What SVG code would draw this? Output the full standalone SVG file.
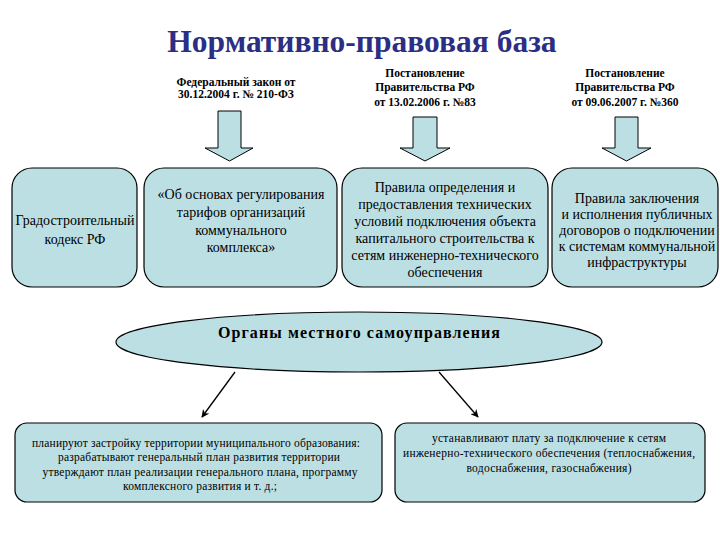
<svg xmlns="http://www.w3.org/2000/svg" width="720" height="540" viewBox="0 0 720 540">
<defs>
<style>
.box{fill:#BCDFE3;stroke:#000;stroke-width:1.2}
.t{font-family:'Liberation Serif','Times New Roman',serif;font-size:14px;fill:#000;text-anchor:middle}
.h{font-family:'Liberation Serif','Times New Roman',serif;font-size:11.5px;font-weight:bold;fill:#000;text-anchor:middle}
.s{font-family:'Liberation Serif','Times New Roman',serif;font-size:11.5px;fill:#000;text-anchor:middle}
.bar{fill:#BCDFE3;stroke:#000;stroke-width:1}
.con{stroke:#000;stroke-width:1.3;fill:none}
</style>
<marker id="ah" viewBox="0 0 10 10" refX="9" refY="5" markerWidth="8" markerHeight="8" orient="auto" markerUnits="userSpaceOnUse">
<path d="M0,0 L10,5 L0,10 L3,5 Z" fill="#000"/>
</marker>
</defs>
<rect width="720" height="540" fill="#fff"/>
<text x="362" y="52" font-family="'Liberation Serif','Times New Roman',serif" font-size="31.5" font-weight="bold" fill="#2B2E83" text-anchor="middle">Нормативно-правовая база</text>

<g id="header1">
<text class="h" x="236" y="86">Федеральный закон от</text>
<text class="h" x="236" y="98">30.12.2004 г. № 210-ФЗ</text>
</g>
<g id="header2">
<text class="h" x="425" y="77">Постановление</text>
<text class="h" x="425" y="91">Правительства РФ</text>
<text class="h" x="425" y="106">от 13.02.2006 г. №83</text>
</g>
<g id="header3">
<text class="h" x="625" y="77">Постановление</text>
<text class="h" x="625" y="91">Правительства РФ</text>
<text class="h" x="625" y="106">от 09.06.2007 г. №360</text>
</g>

<g id="arrow1"><path class="bar" d="M218,111 H241 V148 H253 L229.5,161 L205,148 H218 Z"/></g>
<g id="arrow2"><path class="bar" d="M413,117 H437 V148 H450 L425,161 L400,148 H413 Z"/></g>
<g id="arrow3"><path class="bar" d="M615,117 H638 V148 H651 L626.5,161 L602,148 H615 Z"/></g>

<g id="box1">
<rect class="box" x="12" y="168" width="125" height="119" rx="20"/>
<text class="t" x="75" y="225">Градостроительный</text>
<text class="t" x="75" y="244">кодекс РФ</text>
</g>
<g id="box2">
<rect class="box" x="144" y="168" width="193" height="119" rx="20"/>
<text class="t" x="241" y="199">«Об основах регулирования</text>
<text class="t" x="241" y="217">тарифов организаций</text>
<text class="t" x="241" y="235">коммунального</text>
<text class="t" x="241" y="252">комплекса»</text>
</g>
<g id="box3">
<rect class="box" x="342" y="168" width="206" height="119" rx="20"/>
<text class="t" x="445" y="192">Правила определения  и</text>
<text class="t" x="445" y="209">предоставления технических</text>
<text class="t" x="445" y="226">условий подключения объекта</text>
<text class="t" x="445" y="243">капитального строительства к</text>
<text class="t" x="445" y="260">сетям инженерно-технического</text>
<text class="t" x="445" y="277">обеспечения</text>
</g>
<g id="box4">
<rect class="box" x="552" y="168" width="166" height="119" rx="20"/>
<text class="t" x="637" y="203">Правила заключения</text>
<text class="t" x="637" y="219">и исполнения публичных</text>
<text class="t" x="637" y="235">договоров о подключении</text>
<text class="t" x="637" y="251">к системам коммунальной</text>
<text class="t" x="637" y="267">инфраструктуры</text>
</g>

<g id="ellipse">
<ellipse class="box" cx="359" cy="342" rx="243" ry="30"/>
<text x="359" y="338" font-family="'Liberation Serif','Times New Roman',serif" font-size="16" font-weight="bold" fill="#000" text-anchor="middle" textLength="282" lengthAdjust="spacing">Органы местного самоуправления</text>
</g>

<g id="connectors">
<line class="con" x1="235" y1="372" x2="202" y2="417" marker-end="url(#ah)"/>
<line class="con" x1="439" y1="372" x2="478" y2="417" marker-end="url(#ah)"/>
</g>

<g id="box5">
<rect class="box" x="15" y="423" width="367" height="79" rx="12"/>
<text class="s" x="196" y="447" textLength="328" lengthAdjust="spacing">планируют застройку территории муниципального образования:</text>
<text class="s" x="199" y="461" textLength="282" lengthAdjust="spacing">разрабатывают генеральный план развития территории</text>
<text class="s" x="200" y="476" textLength="315" lengthAdjust="spacing">утверждают план реализации генерального плана, программу</text>
<text class="s" x="200" y="490" textLength="154" lengthAdjust="spacing">комплексного развития и т. д.;</text>
</g>
<g id="box6">
<rect class="box" x="395" y="423" width="310" height="79" rx="12"/>
<text class="s" x="549" y="442" textLength="234" lengthAdjust="spacing">устанавливают плату за подключение к сетям</text>
<text class="s" x="549" y="457" textLength="292" lengthAdjust="spacing">инженерно-технического обеспечения (теплоснабжения,</text>
<text class="s" x="549" y="472" textLength="165" lengthAdjust="spacing">водоснабжения, газоснабжения)</text>
</g>
</svg>
